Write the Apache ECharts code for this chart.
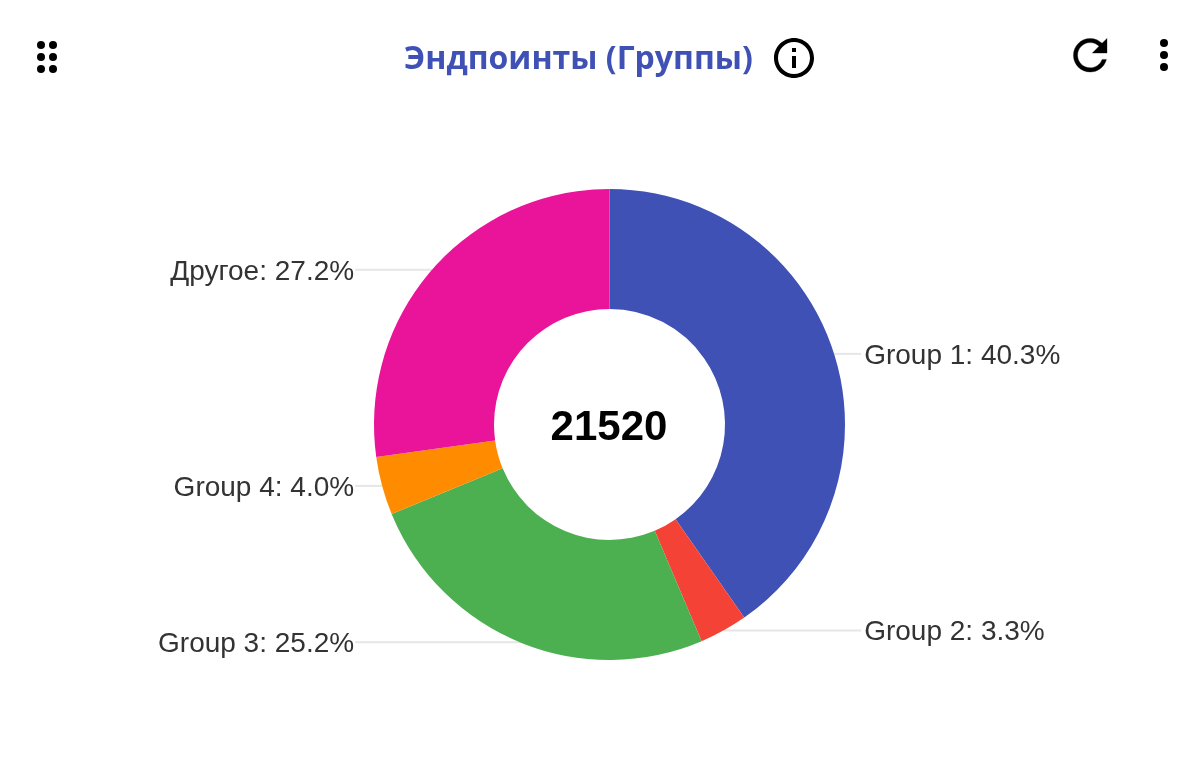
<!DOCTYPE html>
<html>
<head>
<meta charset="utf-8">
<title>Эндпоинты (Группы)</title>
<script src="https://cdn.jsdelivr.net/npm/echarts@6/dist/echarts.min.js"></script>
<style>
  html, body { margin: 0; padding: 0; background: #fff; }
  #main { width: 1200px; height: 765px; }
</style>
</head>
<body>
<div id="main"></div>
<script>
const categories = ['Group 1', 'Group 2', 'Group 3', 'Group 4', 'Другое'];
const values = [8673, 710, 5423, 861, 5853];
const colors = ['#3f51b5', '#f44336', '#4caf50', '#ff8c00', '#e91499'];
const total = '21520';
const chartTitle = 'Эндпоинты (Группы)';

// material icons, 24x24 viewBox
const refreshPath = 'M17.65 6.35C16.2 4.9 14.21 4 12 4c-4.42 0-7.99 3.58-7.99 8s3.57 8 7.99 8c3.73 0 6.84-2.55 7.73-6h-2.08c-.82 2.33-3.04 4-5.65 4-3.31 0-6-2.69-6-6s2.69-6 6-6c1.66 0 3.14.69 4.22 1.78L13 11h7V4l-2.35 2.35z';
const infoPath = 'M11 7h2v2h-2zm0 4h2v6h-2zm1-9C6.48 2 2 6.48 2 12s4.48 10 10 10 10-4.48 10-10S17.52 2 12 2zm0 18c-4.41 0-8-3.59-8-8s3.59-8 8-8 8 3.59 8 8-3.59 8-8 8z';

// the graphic component has no plain path type, so register the icons as shapes
echarts.graphic.registerShape('refreshIcon', echarts.graphic.extendPath(refreshPath));
echarts.graphic.registerShape('infoIcon', echarts.graphic.extendPath(infoPath));

function dot(cx, cy) {
  return { type: 'circle', shape: { cx: cx, cy: cy, r: 4 }, style: { fill: '#000' } };
}
function icon(type, x, y, scale, weight) {
  return {
    type: type, x: x, y: y, scaleX: scale, scaleY: scale,
    style: { fill: '#000', stroke: '#000', lineWidth: weight }
  };
}

const myChart = echarts.init(document.getElementById('main'));
myChart.setOption({
  animation: false,
  title: {
    text: chartTitle,
    left: 399,
    top: 39,
    textStyle: { color: '#3f51b5', fontFamily: 'Open Sans', fontWeight: 'bold', fontSize: 32 }
  },
  graphic: [
    dot(41, 45), dot(53, 45), dot(41, 57), dot(53, 57), dot(41, 69), dot(53, 69),
    icon('infoIcon', 770, 34, 2, 0),
    icon('refreshIcon', 1065, 30, 2.1, 0.15),
    dot(1164, 43), dot(1164, 55), dot(1164, 67),
    {
      type: 'text',
      x: 609,
      y: 428,
      style: {
        text: total,
        align: 'center',
        verticalAlign: 'middle',
        fill: '#000',
        fontFamily: 'Liberation Sans',
        fontWeight: 'bold',
        fontSize: 42
      }
    }
  ],
  series: [{
    type: 'pie',
    center: [609.5, 424.5],
    radius: [115.5, 235.5],
    startAngle: 90,
    clockwise: true,
    percentPrecision: 1,
    color: colors,
    data: categories.map((name, i) => ({ name: name, value: values[i] })),
    label: {
      formatter: p => p.name + ': ' + p.percent.toFixed(1) + '%',
      color: '#333',
      fontFamily: 'Liberation Sans',
      fontSize: 28,
      alignTo: 'labelLine',
      distanceToLabelLine: 2
    },
    labelLine: {
      show: true,
      length: 0,
      length2: 27,
      smooth: false,
      lineStyle: { color: '#e6e6e6', width: 2 }
    },
    labelLayout: { dx: 1, dy: 2 },
    emphasis: { disabled: true }
  }]
});
</script>
</body>
</html>
